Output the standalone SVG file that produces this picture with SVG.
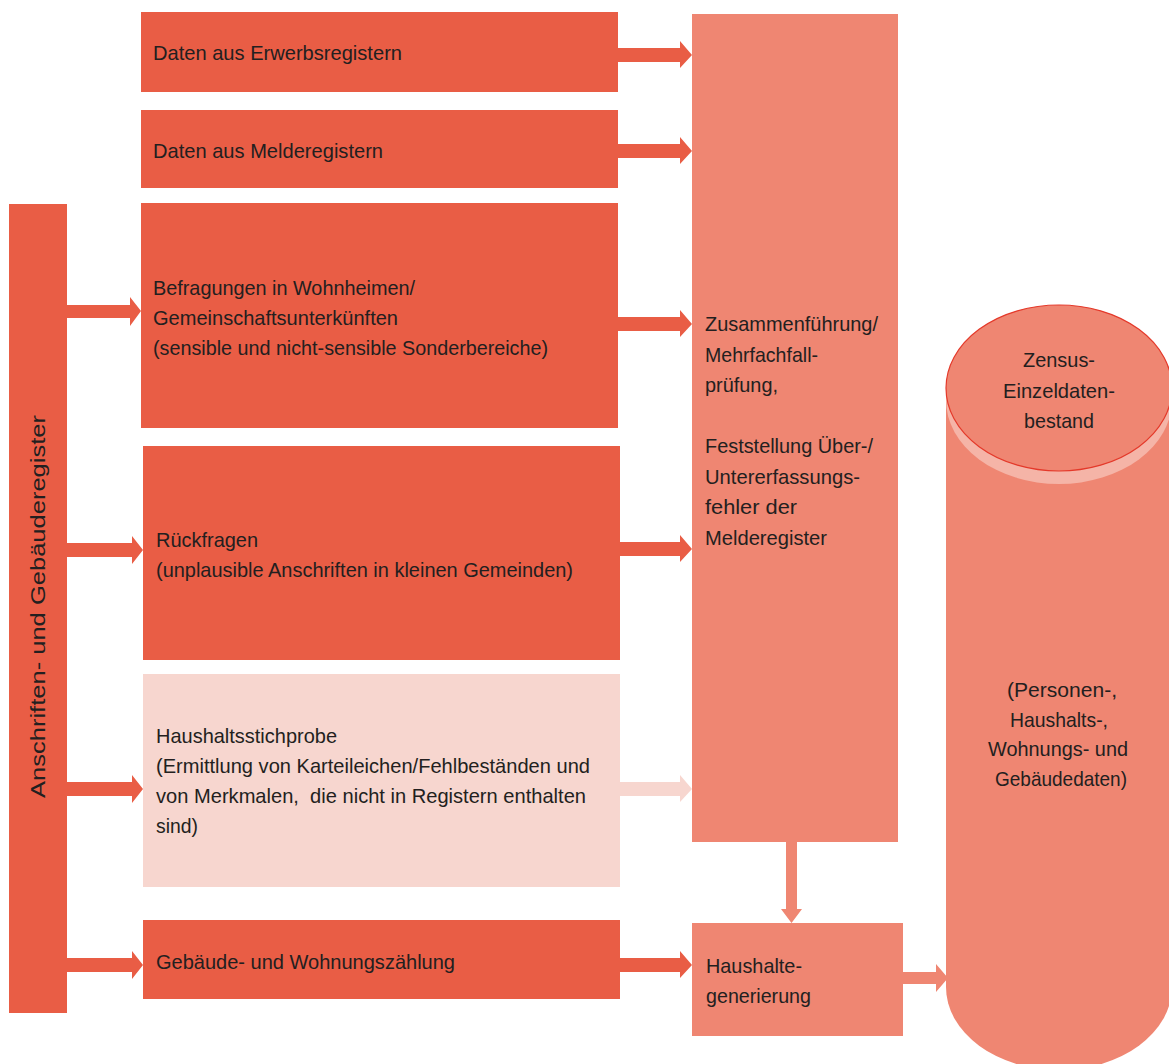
<svg xmlns="http://www.w3.org/2000/svg" width="1169" height="1064" viewBox="0 0 1169 1064">
<style>
.dark{fill:#e95d45}
.mid{fill:#ef8672}
.light{fill:#f7d6cf}
text{font-family:"Liberation Sans",Arial,sans-serif;font-size:21px;fill:#231f20}
.c{text-anchor:middle}
</style>
<rect width="1169" height="1064" fill="#ffffff"/>

<g id="connectors">
  <!-- box to column -->
  <polygon class="dark" points="618,48 680,48 680,41 692,55 680,68 680,62 618,62"/>
  <polygon class="dark" points="618,144 680,144 680,137 692,151 680,164 680,158 618,158"/>
  <polygon class="dark" points="618,317 680,317 680,310 692,324 680,337 680,331 618,331"/>
  <polygon class="dark" points="620,542 680,542 680,535 692,549 680,562 680,556 620,556"/>
  <polygon class="light" points="620,782 680,782 680,775 692,789 680,802 680,796 620,796"/>
  <polygon class="dark" points="620,958 680,958 680,951 692,965 680,978 680,972 620,972"/>
  <!-- bar to boxes -->
  <polygon class="dark" points="67,305 130,305 130,297 141,311 130,326 130,318 67,318"/>
  <polygon class="dark" points="67,543 132,543 132,536 143,550 132,564 132,557 67,557"/>
  <polygon class="dark" points="67,782 132,782 132,775 143,789 132,803 132,796 67,796"/>
  <polygon class="dark" points="67,958 132,958 132,951 143,965 132,979 132,972 67,972"/>
  <!-- column down to Haushalte -->
  <polygon class="mid" points="786,842 797,842 797,909 802,909 791.5,923 781,909 786,909"/>
  <!-- Haushalte to cylinder -->
  <polygon class="mid" points="903,972 936,972 936,964 948,978 936,992 936,984 903,984"/>
</g>

<g id="node-bar">
  <rect class="dark" x="9" y="204" width="58" height="809"/>
  <text transform="translate(45,798) rotate(-90)" textLength="383" lengthAdjust="spacingAndGlyphs">Anschriften- und Gebäuderegister</text>
</g>

<g id="node-erwerb">
  <rect class="dark" x="141" y="12" width="477" height="80"/>
  <text x="153" y="60" textLength="249" lengthAdjust="spacingAndGlyphs">Daten aus Erwerbsregistern</text>
</g>

<g id="node-melde">
  <rect class="dark" x="141" y="110" width="477" height="78"/>
  <text x="153" y="158" textLength="230" lengthAdjust="spacingAndGlyphs">Daten aus Melderegistern</text>
</g>

<g id="node-befragungen">
  <rect class="dark" x="141" y="203" width="477" height="225"/>
  <text x="153" y="295" textLength="262" lengthAdjust="spacingAndGlyphs">Befragungen in Wohnheimen/</text>
  <text x="153" y="325" textLength="245" lengthAdjust="spacingAndGlyphs">Gemeinschaftsunterkünften</text>
  <text x="153" y="355" textLength="395" lengthAdjust="spacingAndGlyphs">(sensible und nicht-sensible Sonderbereiche)</text>
</g>

<g id="node-rueckfragen">
  <rect class="dark" x="143" y="446" width="477" height="214"/>
  <text x="156" y="547" textLength="102" lengthAdjust="spacingAndGlyphs">Rückfragen</text>
  <text x="156" y="577" textLength="417" lengthAdjust="spacingAndGlyphs">(unplausible Anschriften in kleinen Gemeinden)</text>
</g>

<g id="node-stichprobe">
  <rect class="light" x="143" y="674" width="477" height="213"/>
  <text x="156" y="743" textLength="181" lengthAdjust="spacingAndGlyphs">Haushaltsstichprobe</text>
  <text x="156" y="773" textLength="434" lengthAdjust="spacingAndGlyphs">(Ermittlung von Karteileichen/Fehlbeständen und</text>
  <text x="156" y="803" textLength="430" lengthAdjust="spacingAndGlyphs" xml:space="preserve" style="white-space:pre">von Merkmalen,  die nicht in Registern enthalten</text>
  <text x="156" y="833" textLength="42" lengthAdjust="spacingAndGlyphs">sind)</text>
</g>

<g id="node-gwz">
  <rect class="dark" x="143" y="920" width="477" height="79"/>
  <text x="156" y="969" textLength="299" lengthAdjust="spacingAndGlyphs">Gebäude- und Wohnungszählung</text>
</g>

<g id="node-zusammen">
  <rect class="mid" x="692" y="14" width="206" height="828"/>
  <text x="705" y="331" textLength="173" lengthAdjust="spacingAndGlyphs">Zusammenführung/</text>
  <text x="705" y="361.5" textLength="113" lengthAdjust="spacingAndGlyphs">Mehrfachfall-</text>
  <text x="705" y="392" textLength="73" lengthAdjust="spacingAndGlyphs">prüfung,</text>
  <text x="705" y="453" textLength="168" lengthAdjust="spacingAndGlyphs">Feststellung Über-/</text>
  <text x="705" y="483.5" textLength="155" lengthAdjust="spacingAndGlyphs">Untererfassungs-</text>
  <text x="705" y="514" textLength="92" lengthAdjust="spacingAndGlyphs">fehler der</text>
  <text x="705" y="544.5" textLength="122" lengthAdjust="spacingAndGlyphs">Melderegister</text>
</g>

<g id="node-haushalte">
  <rect class="mid" x="692" y="923" width="211" height="113"/>
  <text x="706" y="973" textLength="96" lengthAdjust="spacingAndGlyphs">Haushalte-</text>
  <text x="706" y="1003" textLength="105" lengthAdjust="spacingAndGlyphs">generierung</text>
</g>

<g id="node-cylinder">
  <path class="mid" d="M946,388 V987 A113,83 0 0 0 1172,987 V388 Z"/>
  <ellipse cx="1059" cy="400" rx="113" ry="84" fill="#f5b4a7"/>
  <ellipse cx="1059" cy="388" rx="113" ry="83" class="mid" stroke="#e4392a" stroke-width="1.2"/>
  <text class="c" x="1059" y="367" textLength="72" lengthAdjust="spacingAndGlyphs">Zensus-</text>
  <text class="c" x="1059" y="398" textLength="112" lengthAdjust="spacingAndGlyphs">Einzeldaten-</text>
  <text class="c" x="1059" y="428" textLength="70" lengthAdjust="spacingAndGlyphs">bestand</text>
  <text class="c" x="1062" y="697" textLength="110" lengthAdjust="spacingAndGlyphs">(Personen-,</text>
  <text class="c" x="1059" y="726.5" textLength="98" lengthAdjust="spacingAndGlyphs">Haushalts-,</text>
  <text class="c" x="1058" y="756" textLength="140" lengthAdjust="spacingAndGlyphs">Wohnungs- und</text>
  <text class="c" x="1061" y="785.5" textLength="132" lengthAdjust="spacingAndGlyphs">Gebäudedaten)</text>
</g>
</svg>
